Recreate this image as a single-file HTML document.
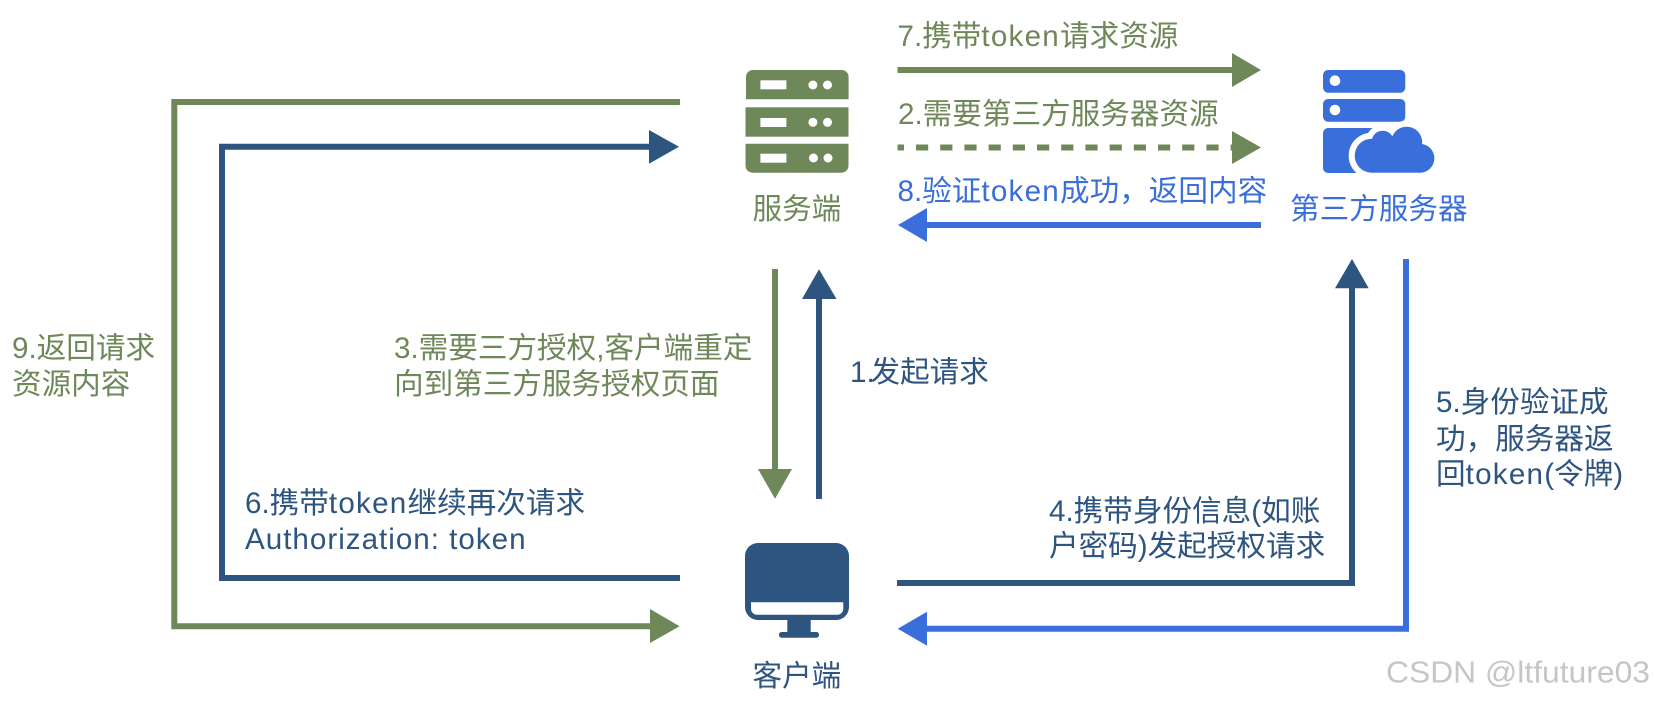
<!DOCTYPE html>
<html lang="zh"><head><meta charset="utf-8"><title>OAuth 流程</title>
<style>
html,body{margin:0;padding:0;background:#fff;width:1655px;height:702px;overflow:hidden}
svg{display:block}
text{font-family:"Liberation Sans","Noto Sans CJK SC",sans-serif;font-size:29.6px}
.g{fill:#6f885a}.n{fill:#2e5480}.b{fill:#3a6fdb}
.t{letter-spacing:1.25px}
</style></head><body>
<svg width="1655" height="702" viewBox="0 0 1655 702" xmlns="http://www.w3.org/2000/svg">
<rect width="1655" height="702" fill="#fff"/>
<!-- connectors -->
<g fill="none" stroke-width="6">
<path d="M897.5 70H1235" stroke="#6f885a"/>
<path d="M897.5 147.500H1232" stroke="#6f885a" stroke-dasharray="12.200 12" stroke-dashoffset="5.700"/>
<path d="M1261 225H925" stroke="#3a6fdb"/>
<path d="M680 102H174.300V626.300H652" stroke="#6f885a"/>
<path d="M652 146.700H222V578H680" stroke="#2e5480"/>
<path d="M775 269V472" stroke="#6f885a"/>
<path d="M819 499V296" stroke="#2e5480"/>
<path d="M897 583H1352V286" stroke="#2e5480"/>
<path d="M1406 259V628.700H925" stroke="#3a6fdb"/>
</g>
<polygon class="g" points="1232,53 1261,70 1232,87"/>
<polygon class="g" points="1232,131 1261,147.5 1232,164"/>
<polygon class="b" points="927,208 898,225 927,242"/>
<polygon class="n" points="649,130 679,146.7 649,163.7"/>
<polygon class="g" points="650,609 679.6,626.3 650,643"/>
<polygon class="g" points="758,469 792,469 775,498.7"/>
<polygon class="n" points="802,299 836.5,299 819,269.3"/>
<polygon class="n" points="1335,288.3 1368.7,288.3 1352,259"/>
<polygon class="b" points="927,611.7 897.7,628.7 927,645.7"/>
<!-- server icon -->
<g class="g">
<path d="M746 99.300V77a7 7 0 0 1 7-7h88.600a7 7 0 0 1 7 7v22.300z"/>
<rect x="745.500" y="107.300" width="103" height="29.400"/>
<path d="M745.500 143.700h103v22a7 7 0 0 1-7 7h-89a7 7 0 0 1-7-7z"/>
</g>
<g fill="#fff">
<rect x="760.400" y="80.300" width="26" height="9"/><circle cx="812.900" cy="85" r="4.500"/><circle cx="827.500" cy="85" r="4.500"/>
<rect x="760.400" y="118" width="26" height="9"/><circle cx="812.900" cy="122.300" r="4.500"/><circle cx="827.500" cy="122.300" r="4.500"/>
<rect x="760.400" y="153.700" width="26" height="9"/><circle cx="813.500" cy="158" r="4.500"/><circle cx="828" cy="158" r="4.500"/>
</g>
<!-- third-party icon -->
<g class="b">
<rect x="1323" y="70" width="82.300" height="22.700" rx="5"/>
<rect x="1323" y="99" width="82.300" height="22.700" rx="5"/>
<rect x="1323" y="128" width="60" height="45" rx="5"/>
</g>
<circle cx="1335" cy="80.700" r="5.300" fill="#fff"/><circle cx="1335" cy="110" r="5.300" fill="#fff"/>
<g fill="#fff" stroke="#fff" stroke-width="12">
<circle cx="1420" cy="158.300" r="14.400"/><circle cx="1406.700" cy="142.200" r="15.500"/><circle cx="1382.700" cy="141.700" r="11"/><circle cx="1371.700" cy="155.700" r="17"/><rect x="1372" y="150" width="48" height="22.700"/>
</g>
<g class="b">
<circle cx="1420" cy="158.300" r="14.400"/><circle cx="1406.700" cy="142.200" r="15.500"/><circle cx="1382.700" cy="141.700" r="11"/><circle cx="1371.700" cy="155.700" r="17"/><rect x="1372" y="145" width="48" height="27.700"/>
</g>
<!-- monitor -->
<path class="n" d="M758 543h78a13 13 0 0 1 13 13v51a13 13 0 0 1-13 13h-25.300v12h6a2.900 2.900 0 0 1 0 5.700h-35.400a2.900 2.900 0 0 1 0-5.700h6v-12h-29.300a13 13 0 0 1-13-13v-51a13 13 0 0 1 13-13z"/>
<path d="M751 602.300h92.300v6.400a6 6 0 0 1-6 6h-80.300a6 6 0 0 1-6-6z" fill="#fff"/>
<!-- labels -->
<text class="g" x="897.500" y="46">7.携带<tspan class="t">token</tspan>请求资源</text>
<text class="g" x="898" y="124">2.需要第三方服务器资源</text>
<text class="b" x="897.500" y="201">8.验证<tspan class="t">token</tspan>成功，返回内容</text>
<text class="g" x="752.500" y="219">服务端</text>
<text class="b" x="1290" y="219">第三方服务器</text>
<text class="n" x="752.500" y="686">客户端</text>
<text class="g" x="12" y="358">9.返回请求</text>
<text class="g" x="12" y="394">资源内容</text>
<text class="g" x="394" y="358">3.需要三方授权,客户端重定</text>
<text class="g" x="394" y="394">向到第三方服务授权页面</text>
<text class="n" x="850" y="382">1.<tspan x="870.500">发起请求</tspan></text>
<text class="n" x="245" y="513">6.携带<tspan class="t">token</tspan>继续再次请求</text>
<text class="n" x="245" y="549" style="letter-spacing:1px">Authorization: token</text>
<text class="n" x="1049" y="521">4.携带身份信息(如账</text>
<text class="n" x="1049" y="556">户密码)发起授权请求</text>
<text class="n" x="1436" y="412">5.身份验证成</text>
<text class="n" x="1436" y="449">功，服务器返</text>
<text class="n" x="1436" y="484">回<tspan class="t">token</tspan>(令牌)</text>
<text x="1386" y="682.500" fill="#c6c6c6" style="font-size:31px" textLength="264" lengthAdjust="spacingAndGlyphs">CSDN @ltfuture03</text>
</svg>
</body></html>
